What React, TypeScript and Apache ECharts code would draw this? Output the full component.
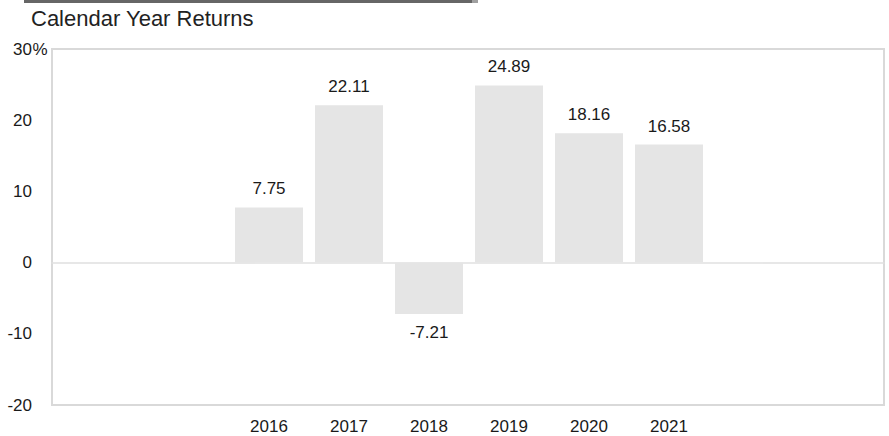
import React, { useEffect, useRef } from "react";
import * as echarts from "echarts";

const years = ["2016", "2017", "2018", "2019", "2020", "2021"];
const returns = [7.75, 22.11, -7.21, 24.89, 18.16, 16.58];
const yTicks = { min: -20, max: 30, interval: 10 };
const titleText = "Calendar Year Returns";

const FONT = "'Liberation Sans', Arial, Helvetica, sans-serif";

export default function App() {
  const ref = useRef<HTMLDivElement>(null);
  useEffect(() => {
    if (!ref.current) return;
    const chart = echarts.init(ref.current, null, { renderer: "svg" });
    const gridTop = 49;
    const gridBottom = 31;
    chart.setOption({
      animation: false,
      backgroundColor: "#ffffff",
      textStyle: { fontFamily: FONT },
      graphic: [
        { type: "rect", shape: { x: 24, y: 0, width: 448, height: 3 }, style: { fill: "#666666" } },
        { type: "rect", shape: { x: 472, y: 0, width: 6, height: 3 }, style: { fill: "#a0a0a0" } },
        {
          type: "text",
          x: 31,
          y: 18,
          style: {
            text: titleText,
            fill: "#222222",
            font: `22px ${FONT}`,
            verticalAlign: "middle",
          },
        },
      ],
      grid: [
        {
          left: 52,
          right: 5,
          top: gridTop,
          bottom: gridBottom,
          show: true,
          borderColor: "#d9d9d9",
          borderWidth: 2,
          containLabel: false,
        },
        {
          left: 229,
          width: 480,
          top: gridTop,
          bottom: gridBottom,
          containLabel: false,
        },
      ],
      xAxis: [
        {
          type: "value",
          gridIndex: 0,
          min: 0,
          max: 1,
          axisLine: { show: true, onZero: true, lineStyle: { color: "#e0e0e0", width: 1.5 } },
          axisTick: { show: false },
          axisLabel: { show: false },
          splitLine: { show: false },
        },
        {
          type: "category",
          gridIndex: 1,
          data: years,
          axisLine: { show: false, onZero: false },
          axisTick: { show: false },
          axisLabel: { color: "#1a1a1a", fontSize: 17, fontFamily: FONT, margin: 13 },
          splitLine: { show: false },
        },
      ],
      yAxis: [
        {
          type: "value",
          gridIndex: 0,
          min: yTicks.min,
          max: yTicks.max,
          interval: yTicks.interval,
          axisLine: { show: false },
          axisTick: { show: false },
          splitLine: { show: false },
          axisLabel: {
            color: "#1a1a1a",
            fontSize: 17,
            fontFamily: FONT,
            margin: 4,
            formatter: (v: number) => (v === yTicks.max ? `{n|${v}}{p|%}` : `{n|${v}}{h| }`),
            rich: {
              n: { fontSize: 17, fontFamily: FONT, color: "#1a1a1a" },
              p: { fontSize: 17, fontFamily: FONT, color: "#1a1a1a", width: 16, align: "left" },
              h: { fontSize: 17, fontFamily: FONT, color: "#1a1a1a", width: 16 },
            },
          },
        },
        {
          type: "value",
          gridIndex: 1,
          min: yTicks.min,
          max: yTicks.max,
          interval: yTicks.interval,
          show: false,
          splitLine: { show: false },
        },
      ],
      series: [
        {
          type: "bar",
          xAxisIndex: 1,
          yAxisIndex: 1,
          barWidth: 68,
          itemStyle: { color: "#e5e5e5" },
          label: {
            show: true,
            color: "#1a1a1a",
            fontSize: 17,
            fontFamily: FONT,
            distance: 10,
            formatter: (p: any) => p.value.toFixed(2),
          },
          data: returns.map((v) => ({
            value: v,
            label: { position: v < 0 ? "bottom" : "top" },
          })),
        },
      ],
    });
    return () => chart.dispose();
  }, []);
  return (
    <div
      ref={ref}
      style={{ position: "fixed", left: 0, top: 0, width: 889, height: 436 }}
    />
  );
}
